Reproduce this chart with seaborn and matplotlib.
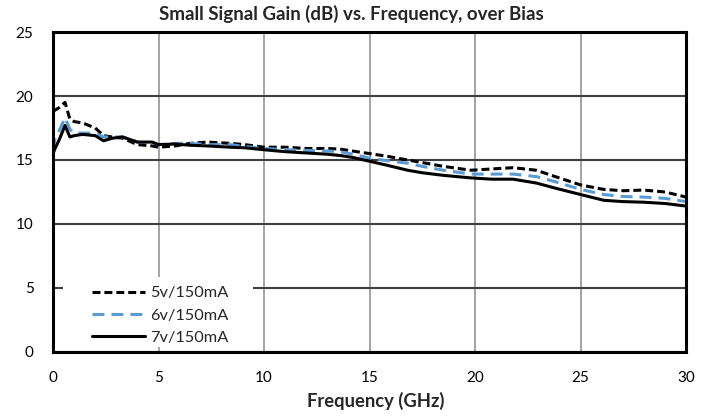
import matplotlib
matplotlib.use("Agg")
import matplotlib.pyplot as plt
from matplotlib.patches import Rectangle
import seaborn as sns
import pandas as pd

freq = [0, 0.1, 0.3, 0.57, 0.8, 1.0, 1.4, 2.0, 2.4, 2.8, 3.3, 4.0, 4.7, 5.0, 5.8,
        6.5, 7.3, 8.4, 9.1, 10, 11, 12, 13, 13.6, 14.2, 15, 15.8, 16.8, 17.5, 18.5,
        19.8, 20.8, 21.8, 22.9, 23.8, 25, 26.1, 27, 28, 29, 30]

gain_5v = [18.8, 18.9, 19.1, 19.5, 18.2, 18.0, 17.9, 17.5, 16.9, 16.8, 16.7, 16.2, 16.1, 16.0, 16.1,
           16.3, 16.4, 16.3, 16.2, 16.0, 16.0, 15.9, 15.9, 15.85, 15.7, 15.5, 15.3, 15.0, 14.8, 14.5,
           14.2, 14.3, 14.4, 14.2, 13.7, 13.05, 12.7, 12.6, 12.65, 12.5, 12.1]

gain_6v = [15.8, 16.7, 17.3, 18.3, 17.4, 17.1, 17.1, 17.1, 16.8, 16.8, 16.8, 16.4, 16.35, 16.2, 16.3,
           16.3, 16.2, 16.2, 16.05, 15.9, 15.8, 15.75, 15.7, 15.65, 15.45, 15.15, 14.95, 14.75, 14.5, 14.2,
           13.9, 13.9, 13.9, 13.7, 13.3, 12.7, 12.3, 12.15, 12.1, 12.0, 11.75]

gain_7v = [15.5, 15.9, 16.6, 17.7, 16.8, 16.9, 17.0, 16.9, 16.5, 16.7, 16.8, 16.4, 16.4, 16.2, 16.25,
           16.15, 16.1, 16.0, 15.95, 15.8, 15.65, 15.55, 15.45, 15.35, 15.2, 14.9, 14.6, 14.2, 14.0, 13.8,
           13.6, 13.5, 13.5, 13.2, 12.8, 12.3, 11.85, 11.75, 11.7, 11.6, 11.4]

labels = ["5v/150mA", "6v/150mA", "7v/150mA"]
x_ticks = [0, 5, 10, 15, 20, 25, 30]
y_ticks = [0, 5, 10, 15, 20, 25]

sns.set_theme(style="white")
plt.rcParams["font.family"] = ["Lato", "DejaVu Sans"]

fig = plt.figure(figsize=(7.14, 4.19), dpi=100)
ax = fig.add_axes([0.0742, 0.160, 0.8868, 0.7636])

df = pd.DataFrame({"freq": freq, "g5": gain_5v, "g6": gain_6v, "g7": gain_7v})

sns.lineplot(data=df, x="freq", y="g5", ax=ax, color="black", lw=2.2,
             linestyle=(0, (2.6, 1.3)), label=labels[0], sort=False, estimator=None)
sns.lineplot(data=df, x="freq", y="g6", ax=ax, color="#5B9BD5", lw=2.2,
             linestyle=(0, (3.9, 2.3)), label=labels[1], sort=False, estimator=None)
sns.lineplot(data=df, x="freq", y="g7", ax=ax, color="black", lw=2.2,
             linestyle="-", label=labels[2], sort=False, estimator=None)

ax.set_xlim(0, 30)
ax.set_ylim(0, 25)
ax.set_xticks(x_ticks)
ax.set_yticks(y_ticks)
ax.tick_params(axis="both", length=0, labelsize=11, colors="black")
ax.tick_params(axis="x", pad=14)
ax.tick_params(axis="y", pad=14)

ax.xaxis.grid(True, color="#8c8c8c", lw=1.1)
ax.yaxis.grid(True, color="#404040", lw=1.5)
ax.set_axisbelow(True)

for s in ax.spines.values():
    s.set_visible(True)
    s.set_color("black")
    s.set_linewidth(2.2)
    s.set_zorder(6)

ax.set_xlabel("Frequency (GHz)", fontsize=13.2, fontweight="bold", labelpad=5, x=0.509)
ax.set_ylabel("")
ax.set_title("Small Signal Gain (dB) vs. Frequency, over Bias", fontsize=13.5,
             fontweight="bold", pad=8.5, x=0.471)

# white background behind the legend, hiding the gridlines there
ax.add_patch(Rectangle((0.0158, 0.0156), 0.30, 0.218, transform=ax.transAxes,
                       facecolor="white", edgecolor="none", zorder=1.5))

leg = ax.legend(loc="lower left", bbox_to_anchor=(0.0616, 0.022), frameon=False,
                fontsize=11.8, handlelength=3.23, handletextpad=0.3, labelspacing=0.48,
                borderpad=0, borderaxespad=0)

fig.savefig("out.png", dpi=100)
